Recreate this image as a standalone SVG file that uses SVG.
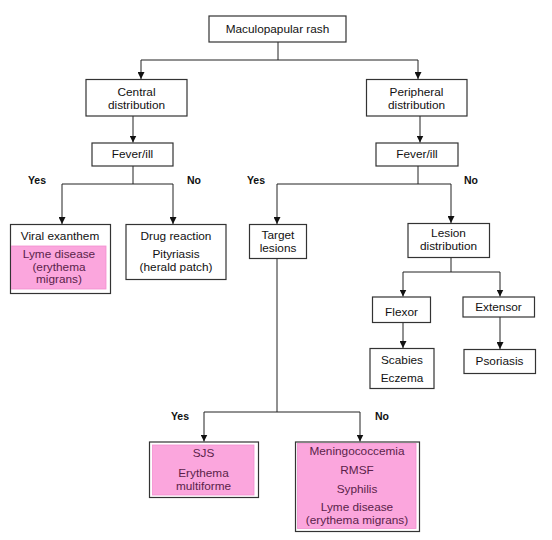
<svg xmlns="http://www.w3.org/2000/svg" width="552" height="540" viewBox="0 0 552 540">
<defs>
<marker id="ah" viewBox="0 0 8 8" refX="8" refY="4" markerWidth="7" markerHeight="7" markerUnits="userSpaceOnUse" orient="auto">
<path d="M0,0 L8,4 L0,8 z" fill="#111"/>
</marker>
<style>
.box{fill:#fff;stroke:#333;stroke-width:1.2}
.pink{fill:#fba6dd;stroke:#f38fd0;stroke-width:0.8}
.t{font-family:"Liberation Sans",Arial,sans-serif;font-size:11.8px;fill:#111;text-anchor:middle}
.p{fill:#5a1f4a}
.yn{font-family:"Liberation Sans",Arial,sans-serif;font-size:10.5px;font-weight:bold;fill:#111;text-anchor:middle}
.c{fill:none;stroke:#222;stroke-width:1}
</style>
</defs>
<rect width="552" height="540" fill="#fff"/>
<g id="connectors">
<path class="c" d="M278,42 V60 M141,60 H418"/>
<path class="c" d="M141,60 V79" marker-end="url(#ah)"/>
<path class="c" d="M418,60 V79" marker-end="url(#ah)"/>
<path class="c" d="M133,116 V142.5" marker-end="url(#ah)"/>
<path class="c" d="M420,116 V142.5" marker-end="url(#ah)"/>
<path class="c" d="M133,166 V184 M62,184 H173"/>
<path class="c" d="M62,184 V224" marker-end="url(#ah)"/>
<path class="c" d="M173,184 V224" marker-end="url(#ah)"/>
<path class="c" d="M418,166 V184 M277,184 H451"/>
<path class="c" d="M277,184 V224" marker-end="url(#ah)"/>
<path class="c" d="M451,184 V223" marker-end="url(#ah)"/>
<path class="c" d="M451,258 V272 M403,272 H500"/>
<path class="c" d="M403,272 V296.5" marker-end="url(#ah)"/>
<path class="c" d="M500,272 V296.5" marker-end="url(#ah)"/>
<path class="c" d="M403,322 V348" marker-end="url(#ah)"/>
<path class="c" d="M500,317 V349" marker-end="url(#ah)"/>
<path class="c" d="M277,259 V412 M204,412 H360"/>
<path class="c" d="M204,412 V441.5" marker-end="url(#ah)"/>
<path class="c" d="M360,412 V441.5" marker-end="url(#ah)"/>
</g>
<g id="labels">
<text class="yn" x="37" y="184">Yes</text>
<text class="yn" x="194" y="184">No</text>
<text class="yn" x="256" y="184">Yes</text>
<text class="yn" x="471" y="184">No</text>
<text class="yn" x="180" y="420">Yes</text>
<text class="yn" x="382" y="420">No</text>
</g>
<g id="maculopapular">
<rect class="box" x="209" y="16" width="137" height="26"/>
<text class="t" x="277.5" y="33">Maculopapular rash</text>
</g>
<g id="central">
<rect class="box" x="86" y="79.5" width="101" height="36.5"/>
<text class="t" x="136.5" y="95.5">Central</text>
<text class="t" x="136.5" y="109">distribution</text>
</g>
<g id="peripheral">
<rect class="box" x="366.5" y="79.5" width="100.5" height="36.5"/>
<text class="t" x="416.5" y="95.5">Peripheral</text>
<text class="t" x="416.5" y="109">distribution</text>
</g>
<g id="fever-left">
<rect class="box" x="92" y="143" width="81" height="23"/>
<text class="t" x="132.5" y="158">Fever/ill</text>
</g>
<g id="fever-right">
<rect class="box" x="376" y="143" width="82" height="23"/>
<text class="t" x="417" y="158">Fever/ill</text>
</g>
<g id="viral">
<rect class="box" x="10.5" y="224.5" width="100" height="69"/>
<rect class="pink" x="11.5" y="246" width="94.5" height="43"/>
<text class="t" x="60" y="240">Viral exanthem</text>
<text class="t p" x="59" y="258">Lyme disease</text>
<text class="t p" x="59" y="270.5">(erythema</text>
<text class="t p" x="59" y="283">migrans)</text>
</g>
<g id="drug">
<rect class="box" x="126" y="224.5" width="100" height="55"/>
<text class="t" x="176" y="240">Drug reaction</text>
<text class="t" x="176" y="258">Pityriasis</text>
<text class="t" x="176" y="270.5">(herald patch)</text>
</g>
<g id="target">
<rect class="box" x="249.5" y="224.5" width="57" height="34"/>
<text class="t" x="278" y="239">Target</text>
<text class="t" x="278" y="252">lesions</text>
</g>
<g id="lesion">
<rect class="box" x="408" y="223.5" width="81.5" height="34"/>
<text class="t" x="448.5" y="237">Lesion</text>
<text class="t" x="448.5" y="250">distribution</text>
</g>
<g id="flexor">
<rect class="box" x="372.5" y="297" width="58" height="25.5"/>
<text class="t" x="401.5" y="315.5">Flexor</text>
</g>
<g id="extensor">
<rect class="box" x="463" y="297" width="71.5" height="20"/>
<text class="t" x="498.5" y="311">Extensor</text>
</g>
<g id="scabies">
<rect class="box" x="370" y="348.5" width="64" height="40"/>
<text class="t" x="402" y="364">Scabies</text>
<text class="t" x="402" y="382">Eczema</text>
</g>
<g id="psoriasis">
<rect class="box" x="464" y="349.5" width="71.5" height="24"/>
<text class="t" x="499.5" y="365">Psoriasis</text>
</g>
<g id="sjs">
<rect class="box" x="149.5" y="442" width="109" height="55.5"/>
<rect class="pink" x="152.5" y="445" width="101.5" height="50"/>
<text class="t p" x="203.5" y="456.5">SJS</text>
<text class="t p" x="203.5" y="476.5">Erythema</text>
<text class="t p" x="203.5" y="490">multiforme</text>
</g>
<g id="infections">
<rect class="box" x="295.5" y="442" width="124" height="89.5"/>
<rect class="pink" x="297.5" y="443.5" width="118.5" height="85"/>
<text class="t p" x="357" y="455">Meningococcemia</text>
<text class="t p" x="357" y="474">RMSF</text>
<text class="t p" x="357" y="493">Syphilis</text>
<text class="t p" x="357" y="511">Lyme disease</text>
<text class="t p" x="357" y="524">(erythema migrans)</text>
</g>
</svg>
